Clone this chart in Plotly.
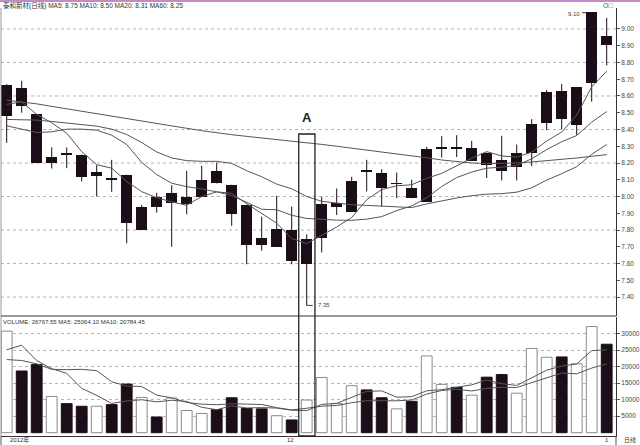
import plotly.graph_objects as go

# ---------------- data ----------------
idx = list(range(41))
opens = [8.48, 8.65, 8.49, 8.20, 8.26, 8.25, 8.12, 8.103, 8.13, 7.80, 8.00, 7.96, 7.954, 8.00, 8.15,
         8.07, 7.95, 7.75, 7.70, 7.80, 7.60, 7.755, 7.94, 7.91, 8.16, 8.14, 8.072, 8.05, 7.97, 8.284,
         8.296, 8.21, 8.26, 8.22, 8.176, 8.26, 8.436, 8.63, 8.426, 8.676, 8.956]
closes = [8.667, 8.541, 8.199, 8.237, 8.247, 8.117, 8.149, 8.097, 7.841, 7.94, 7.94, 8.02, 8.00, 8.10, 8.078,
          7.898, 7.711, 7.709, 7.809, 7.616, 7.749, 7.958, 7.96, 8.09, 8.149, 8.048, 8.076, 7.99, 8.282, 8.296,
          8.282, 8.292, 8.19, 8.15, 8.26, 8.432, 8.622, 8.462, 8.652, 9.10, 8.906]
highs = [8.67, 8.69, 8.49, 8.293, 8.293, 8.25, 8.187, 8.219, 8.13, 7.95, 8.022, 8.068, 8.153, 8.183, 8.203,
         8.07, 7.95, 7.879, 8.004, 7.94, 7.775, 7.998, 8.048, 8.117, 8.219, 8.163, 8.143, 8.10, 8.296, 8.36,
         8.366, 8.332, 8.262, 8.362, 8.31, 8.462, 8.636, 8.672, 8.652, 9.10, 9.066]
lows = [8.32, 8.50, 8.199, 8.167, 8.169, 8.09, 8.00, 8.028, 7.721, 7.80, 7.904, 7.70, 7.894, 8.00, 8.078,
        7.825, 7.596, 7.676, 7.701, 7.596, 7.35, 7.666, 7.89, 7.91, 8.03, 7.94, 7.99, 7.99, 7.97, 8.232,
        8.236, 8.212, 8.11, 8.096, 8.096, 8.182, 8.396, 8.402, 8.366, 8.566, 8.782]

ma5 = [8.55, 8.565, 8.49, 8.44, 8.378, 8.268, 8.190, 8.169, 8.090, 8.029, 7.993, 7.968, 7.948, 8.000, 8.028,
       8.019, 7.957, 7.899, 7.841, 7.749, 7.719, 7.768, 7.818, 7.875, 7.981, 8.041, 8.064, 8.070, 8.109, 8.138,
       8.185, 8.228, 8.268, 8.242, 8.235, 8.265, 8.331, 8.385, 8.486, 8.654, 8.748]
ma10 = [8.422, 8.402, 8.382, 8.386, 8.402, 8.402, 8.396, 8.366, 8.31, 8.204, 8.131, 8.079, 8.059, 8.045, 8.028,
        8.006, 7.963, 7.924, 7.921, 7.888, 7.869, 7.863, 7.859, 7.858, 7.865, 7.880, 7.916, 7.944, 7.992, 8.060,
        8.113, 8.146, 8.169, 8.175, 8.186, 8.225, 8.280, 8.327, 8.364, 8.444, 8.507]
ma20 = [8.46, 8.46, 8.456, 8.448, 8.44, 8.432, 8.42, 8.402, 8.37, 8.322, 8.266, 8.23, 8.214, 8.21, 8.21,
        8.198, 8.154, 8.118, 8.074, 8.046, 8.000, 7.971, 7.959, 7.951, 7.947, 7.943, 7.939, 7.934, 7.956, 7.974,
        7.991, 8.005, 8.014, 8.017, 8.026, 8.052, 8.098, 8.136, 8.178, 8.252, 8.310]
ma60 = [8.575, 8.565, 8.553, 8.538, 8.523, 8.508, 8.494, 8.479, 8.465, 8.450, 8.436, 8.421, 8.407, 8.393, 8.380,
        8.369, 8.359, 8.350, 8.341, 8.332, 8.322, 8.311, 8.300, 8.289, 8.278, 8.267, 8.256, 8.244, 8.231, 8.218,
        8.207, 8.200, 8.197, 8.197, 8.200, 8.206, 8.213, 8.221, 8.230, 8.240, 8.250]

volume = [30730, 18670, 20650, 10970, 8790, 8000, 8000, 8500, 14720, 10670, 4740, 10470, 6720, 5830, 7015,
          10570, 7310, 7210, 5140, 3850, 9880, 16700, 8790, 14230, 12940, 10570, 7210, 9490, 23220, 14620,
          13730, 11360, 16800, 17590, 11950, 25490, 22820, 22920, 20850, 32110, 26768]
vol_ma5 = [25100, 26480, 21830, 19360, 17962, 13416, 11282, 8852, 9602, 9978, 9326, 9820, 9464, 7686, 6955,
           8121, 7489, 7587, 7449, 6816, 6678, 8556, 8872, 10690, 12508, 12646, 10748, 10888, 12686, 13022,
           13654, 14484, 15946, 14820, 14286, 16638, 18930, 20154, 20806, 24838, 25064]
vol_ma10 = [22130, 21840, 20850, 19170, 19070, 19170, 18770, 15410, 14130, 13970, 11371, 10551, 9158, 8644, 8467,
            8724, 8655, 8526, 7568, 6886, 7400, 8023, 8230, 9070, 9662, 9662, 9652, 9880, 11688, 12765,
            13150, 12616, 13417, 13753, 13654, 15146, 16707, 18050, 17813, 19562, 20784]

price_ticks = [7.4, 7.5, 7.6, 7.7, 7.8, 7.9, 8.0, 8.1, 8.2, 8.3, 8.4, 8.5, 8.6, 8.7, 8.8, 8.9, 9.0]
price_grid = [7.4, 7.6, 7.8, 8.0, 8.2, 8.4, 8.6, 8.8, 9.0]
vol_ticks = [5000, 10000, 15000, 20000, 25000, 30000]

title_text = "泰和新材(日线) MA5: 8.75 MA10: 8.50 MA20: 8.31 MA60: 8.25"
vol_title = "VOLUME: 26767.55 MA5: 25064.10 MA10: 20784.45"

# ---------------- styling ----------------
DARK = "#1c0e18"
LINE = "#555555"
FONT = "Liberation Sans, Arial, Noto Sans CJK SC, sans-serif"
XR = [-0.38, 40.62]
PR = [7.287, 9.125]
VR = [-1000, 35000]
P_DOM = [0.2804, 1.0]
V_DOM = [0.0, 0.278]

fig = go.Figure()

# wicks
wx, wy = [], []
for i in idx:
    wx += [i, i, None]
    wy += [lows[i], highs[i], None]
fig.add_trace(go.Scatter(x=wx, y=wy, mode="lines", line=dict(color=DARK, width=1),
                         xaxis="x", yaxis="y", hoverinfo="skip"))

# bodies
base = [min(o, c) for o, c in zip(opens, closes)]
height = [max(abs(c - o), 0.011) for o, c in zip(opens, closes)]
fig.add_trace(go.Bar(x=idx, y=height, base=base, width=0.7,
                     marker=dict(color=DARK, line=dict(width=0)), xaxis="x", yaxis="y"))

# moving averages
for ma in (ma60, ma20, ma10, ma5):
    fig.add_trace(go.Scatter(x=idx, y=ma, mode="lines", line=dict(color=LINE, width=1),
                             xaxis="x", yaxis="y", hoverinfo="skip"))

# volume bars
up = [c >= o for o, c in zip(opens, closes)]
fill = ["#ffffff" if u else DARK for u in up]
edge = ["#8a8a8a" if u else DARK for u in up]
fig.add_trace(go.Bar(x=idx, y=volume, width=0.72,
                     marker=dict(color=fill, line=dict(color=edge, width=1)),
                     xaxis="x2", yaxis="y2"))
for vm in (vol_ma10, vol_ma5):
    fig.add_trace(go.Scatter(x=idx, y=vm, mode="lines", line=dict(color=LINE, width=1),
                             xaxis="x2", yaxis="y2", hoverinfo="skip"))

shapes = []
for g in price_grid:
    shapes.append(dict(type="line", xref="paper", yref="y", x0=0, x1=1, y0=g, y1=g,
                       line=dict(color="#b5b5b5", width=1, dash="dot"), layer="below"))
# left border
shapes.append(dict(type="line", xref="paper", yref="paper", x0=0, x1=0, y0=0, y1=1,
                   line=dict(color="#9a9a9a", width=1)))
# pane separator
shapes.append(dict(type="line", xref="paper", yref="paper", x0=0, x1=1, y0=P_DOM[0], y1=P_DOM[0],
                   line=dict(color="#333333", width=1)))
# purple top band
shapes.append(dict(type="rect", xref="paper", yref="paper", x0=-0.01, x1=1.05, y0=1.0138, y1=1.03,
                   line=dict(width=0), fillcolor="#c48ac4"))
# box A
box_top = 8.373
y_top_paper = P_DOM[0] + (box_top - PR[0]) / (PR[1] - PR[0]) * (P_DOM[1] - P_DOM[0])
shapes.append(dict(type="rect", xref="x", yref="paper", x0=19.47, x1=20.55, y0=0, y1=y_top_paper,
                   line=dict(color="#222222", width=1.3), fillcolor="rgba(0,0,0,0)"))
# 9.10 pointer
shapes.append(dict(type="line", xref="x", yref="y", x0=38.35, x1=38.65, y0=9.097, y1=9.097,
                   line=dict(color="#444", width=1)))
# 7.35 pointer
shapes.append(dict(type="line", xref="x", yref="y", x0=20.0, x1=20.4, y0=7.35, y1=7.35,
                   line=dict(color="#444", width=1)))
# bottom strip separators
for xp in (0.0, 1.0):
    shapes.append(dict(type="line", xref="paper", yref="paper", x0=xp, x1=xp, y0=0, y1=-0.021,
                       line=dict(color="#555", width=1)))

small = dict(family=FONT, size=6.5, color="#333333")
annotations = [
    dict(text=title_text, xref="paper", yref="paper", x=0.0, y=1.0047, xanchor="left", yanchor="middle",
         showarrow=False, font=small),
    dict(text="O□", xref="paper", yref="paper", x=0.998, y=1.005, xanchor="right", yanchor="middle",
         showarrow=False, font=dict(family=FONT, size=7, color="#555")),
    dict(text=vol_title, xref="paper", yref="paper", x=0.0, y=0.2664, xanchor="left", yanchor="middle",
         showarrow=False, font=dict(family=FONT, size=6, color="#333")),
    dict(text="<b>A</b>", xref="x", yref="y", x=20.0, y=8.47, showarrow=False,
         font=dict(family=FONT, size=13, color="#222")),
    dict(text="9.10", xref="x", yref="y", x=38.35, y=9.088, xanchor="right", yanchor="middle",
         showarrow=False, font=dict(family=FONT, size=6, color="#444")),
    dict(text="7.35", xref="x", yref="y", x=20.6, y=7.35, xanchor="left", yanchor="middle",
         showarrow=False, font=dict(family=FONT, size=6, color="#444")),
    dict(text="2012年", xref="paper", yref="paper", x=0.011, y=-0.0105, xanchor="left", yanchor="middle",
         showarrow=False, font=dict(family=FONT, size=6, color="#333")),
    dict(text="12", xref="x", yref="paper", x=18.95, y=-0.0105, xanchor="center", yanchor="middle",
         showarrow=False, font=dict(family=FONT, size=6, color="#333")),
    dict(text="1", xref="x", yref="paper", x=40.05, y=-0.0105, xanchor="center", yanchor="middle",
         showarrow=False, font=dict(family=FONT, size=6, color="#333")),
    dict(text="日线", xref="paper", yref="paper", x=1.01, y=-0.0105, xanchor="left", yanchor="middle",
         showarrow=False, font=dict(family=FONT, size=6, color="#333")),
]

fig.update_layout(
    width=640, height=445,
    margin=dict(l=1, r=24, t=8, b=9),
    paper_bgcolor="white", plot_bgcolor="white",
    showlegend=False, bargap=0,
    font=dict(family=FONT),
    xaxis=dict(domain=[0, 1], range=XR, visible=False, anchor="y", fixedrange=True),
    xaxis2=dict(domain=[0, 1], range=XR, anchor="y2", showticklabels=False, ticks="",
                showgrid=False, zeroline=False, showline=True, linecolor="#333", linewidth=1),
    yaxis=dict(domain=P_DOM, range=PR, side="right", anchor="x", tickvals=price_ticks,
               ticktext=["%.2f" % v for v in price_ticks], ticks="outside", ticklen=3,
               tickcolor="#555", tickfont=dict(size=6.5, color="#444"), showgrid=False,
               zeroline=False, showline=True, linecolor="#333", linewidth=1),
    yaxis2=dict(domain=V_DOM, range=VR, side="right", anchor="x2", tickvals=vol_ticks,
                ticktext=[str(v) for v in vol_ticks], ticks="outside", ticklen=3,
                tickcolor="#555", tickfont=dict(size=6.5, color="#444"), showgrid=True,
                gridcolor="#b5b5b5", griddash="dot", gridwidth=1,
                zeroline=False, showline=True, linecolor="#333", linewidth=1),
    shapes=shapes,
    annotations=annotations,
)

fig.write_html("out.html",
               config={"displayModeBar": False, "staticPlot": True},
               post_script="document.body.style.margin='0';document.body.style.padding='0';"
                           "document.documentElement.style.overflow='hidden';")
